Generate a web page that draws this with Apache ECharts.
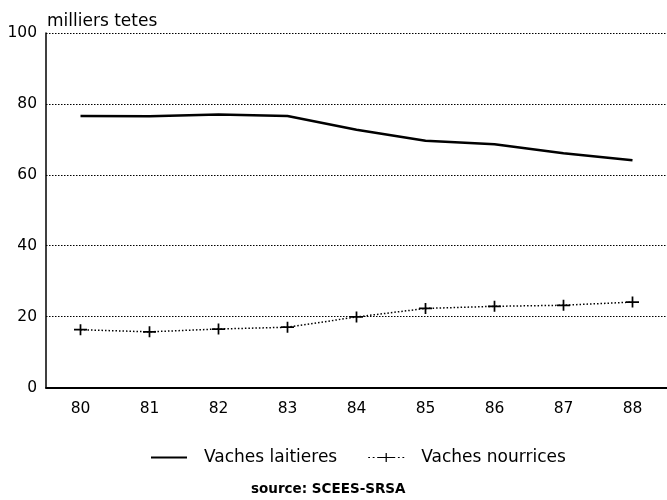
<!DOCTYPE html>
<html>
<head>
<meta charset="utf-8">
<script src="https://cdn.jsdelivr.net/npm/echarts@6/dist/echarts.min.js"></script>
<style>
  html, body { margin: 0; padding: 0; background: #fff; }
  #chart { width: 667px; height: 500px; }
</style>
</head>
<body>
<div id="chart"></div>
<script>
// Years (19xx) and herd sizes in thousands of head
const years = ['80', '81', '82', '83', '84', '85', '86', '87', '88'];
const vachesLaitieres = [76.6, 76.5, 77.0, 76.6, 72.7, 69.6, 68.6, 66.1, 64.1];
const vachesNourrices = [16.3, 15.7, 16.5, 17.0, 19.9, 22.3, 22.9, 23.2, 24.1];
const yTicks = [0, 20, 40, 60, 80, 100];

const FONT = 'DejaVu Sans';
const plusSymbol = 'path://M0,4.2L12,4.2L12,5.8L0,5.8ZM5.2,0L6.8,0L6.8,10L5.2,10Z';
const solidIcon = 'path://M0,4L40,4L40,6L0,6Z';
const dottedPlusIcon = 'path://M0,4.4L2,4.4L2,5.6L0,5.6ZM5,4.4L7,4.4L7,5.6L5,5.6ZM10,4.4L30,4.4L30,5.6L10,5.6ZM19.3,0L20.7,0L20.7,10L19.3,10ZM33,4.4L35,4.4L35,5.6L33,5.6ZM38,4.4L40,4.4L40,5.6L38,5.6Z';

const chart = echarts.init(document.getElementById('chart'));
chart.setOption({
  animation: false,
  backgroundColor: '#ffffff',
  textStyle: { fontFamily: FONT, color: '#000' },
  grid: { left: 46, right: -4, top: 33, bottom: 112.5 },
  title: {
    text: 'milliers tetes',
    left: 42, top: 8,
    textStyle: { fontFamily: FONT, fontSize: 17, fontWeight: 'normal', color: '#000' }
  },
  legend: {
    top: 444,
    left: 146,
    itemWidth: 36,
    itemHeight: 10,
    itemGap: 31,
    textStyle: { fontFamily: FONT, fontSize: 17, color: '#000', padding: [0, 0, 0, 12] },
    data: [
      { name: 'Vaches laitieres', icon: solidIcon },
      { name: 'Vaches nourrices', icon: dottedPlusIcon }
    ]
  },
  graphic: [{
    type: 'text',
    left: 251,
    top: 482,
    style: { text: 'source: SCEES-SRSA', fontFamily: FONT, fontSize: 13.5, fontWeight: 'bold', fill: '#000' }
  }],
  xAxis: {
    type: 'category',
    data: years,
    boundaryGap: true,
    axisLine: { lineStyle: { color: '#000', width: 2 } },
    axisTick: { inside: true, alignWithLabel: true, length: 5, lineStyle: { color: '#000', width: 1 } },
    axisLabel: { fontFamily: FONT, fontSize: 15.5, color: '#000', margin: 13 },
    splitLine: { show: false }
  },
  yAxis: {
    type: 'value',
    min: 0, max: 100, interval: 20,
    axisLine: { show: true, lineStyle: { color: '#000', width: 1.5 } },
    axisTick: { show: false },
    axisLabel: {
      fontFamily: FONT, fontSize: 15.5, color: '#000', margin: 9,
      formatter: v => yTicks.includes(v) ? String(v) : ''
    },
    splitLine: { lineStyle: { color: '#000', type: [1.5, 1.5], width: 1 } }
  },
  series: [
    {
      name: 'Vaches laitieres',
      type: 'line',
      data: vachesLaitieres,
      showSymbol: false,
      symbol: 'none',
      lineStyle: { color: '#000', width: 2.5 },
      itemStyle: { color: '#000' }
    },
    {
      name: 'Vaches nourrices',
      type: 'line',
      data: vachesNourrices,
      symbol: plusSymbol,
      symbolSize: [13, 11],
      lineStyle: { color: '#000', width: 1.5, type: [1.5, 2] },
      itemStyle: { color: '#000' }
    }
  ]
});
</script>
</body>
</html>
